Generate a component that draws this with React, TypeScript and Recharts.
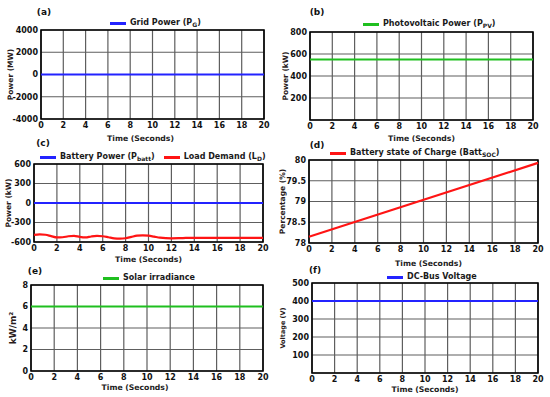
import type { ReactNode } from "react";
import { CartesianGrid, Legend, Line, LineChart, ReferenceArea, XAxis, YAxis } from "recharts";

const FONT = '"DejaVu Sans", Verdana, sans-serif';

// time axis (seconds)
const timeTicks = [0, 2, 4, 6, 8, 10, 12, 14, 16, 18, 20];
const spanTime = [0, 20];

// flat / linear traces, read at start and end
const gridPowerMW = [0, 0];
const pvPowerKW = [550, 550];
const batteryPowerKW = [0, 0];
const socPercent = [78.15, 79.93];
const irradianceKWm2 = [6, 6];
const dcBusVoltageV = [400, 400];

// load demand wiggle (kW)
const loadTime = [0, 0.5, 1, 1.5, 2, 2.5, 3, 3.5, 4, 4.5, 5, 5.5, 6, 6.5, 7, 7.5, 8, 8.5, 9, 9.5, 10, 10.5, 11, 11.5, 12, 13, 14, 16, 18, 20];
const loadDemandKW = [-490, -482, -488, -510, -530, -527, -512, -505, -522, -530, -515, -507, -512, -527, -543, -548, -542, -522, -503, -497, -503, -518, -533, -541, -543, -539, -536, -536, -535, -535];

// y ticks per panel
const gridTicks = [-4000, -2000, 0, 2000, 4000];
const pvTicks = [0, 200, 400, 600, 800];
const battTicks = [-600, -300, 0, 300, 600];
const socTicks = [78, 78.5, 79, 79.5, 80];
const irrTicks = [0, 2, 4, 6, 8];
const voltTicks = [0, 100, 200, 300, 400, 500];

const toPoints = (ts: number[], vs: number[]) => ts.map((t, i) => ({ t, v: vs[i] }));

interface Series {
  name: ReactNode;
  color: string;
  data: { t: number; v: number }[];
}

interface PanelProps {
  left: number;
  top: number;
  width: number;
  height: number;
  marginTop: number;
  marginRight: number;
  yWidth: number;
  xHeight: number;
  yDomain: [number, number];
  yTicks: number[];
  hideZero?: boolean;
  yTitle: ReactNode;
  yTitleSize?: number;
  yTitleX: number;
  yTitleDy?: number;
  xTitleOffset: number;
  xTitleDx?: number;
  legendTop: number;
  legendLeft: number;
  letter: string;
  letterX: number;
  letterY: number;
  series: Series[];
}

const tickStyle = { fontSize: 8, fontWeight: 700, fill: "#111", fontFamily: FONT };

function Panel(p: PanelProps) {
  return (
    <div style={{ position: "absolute", left: p.left, top: p.top, width: p.width, height: p.height }}>
      <LineChart
        width={p.width}
        height={p.height}
        margin={{ top: p.marginTop, right: p.marginRight, left: 0, bottom: 0 }}
        style={{ fontFamily: FONT }}
      >
        <CartesianGrid stroke="#5e5e5e" strokeWidth={1.2} />
        <XAxis
          dataKey="t"
          type="number"
          domain={[0, 20]}
          ticks={timeTicks}
          interval={0}
          height={p.xHeight}
          tickSize={0}
          tickMargin={3}
          axisLine={false}
          tick={tickStyle}
          label={{
            value: "Time (Seconds)",
            position: "insideBottom",
            offset: p.xTitleOffset,
            dx: p.xTitleDx ?? 0,
            style: { fontSize: 7.7, fontWeight: 700, fill: "#222", fontFamily: FONT },
          }}
        />
        <YAxis
          type="number"
          domain={p.yDomain}
          ticks={p.yTicks}
          interval={0}
          width={p.yWidth}
          tickSize={0}
          tickMargin={3}
          axisLine={false}
          tick={tickStyle}
          tickFormatter={(v) => (p.hideZero && v === 0 ? "" : String(v))}
          label={{
            value: p.yTitle as string,
            angle: -90,
            position: "insideLeft",
            offset: 0,
            dx: p.yTitleX,
            dy: p.yTitleDy ?? 0,
            style: { textAnchor: "middle", fontSize: p.yTitleSize ?? 7.5, fontWeight: 700, fill: "#2a1c1c", fontFamily: FONT },
          }}
        />
        <Legend
          layout="horizontal"
          verticalAlign="middle"
          align="center"
          wrapperStyle={{ top: p.legendTop, left: p.legendLeft, width: "auto" }}
          content={() => (
            <div style={{ display: "flex", gap: 9, whiteSpace: "nowrap", fontFamily: FONT, fontSize: 8, fontWeight: 700, color: "#1a1a1a", lineHeight: "12px" }}>
              {p.series.map((s, i) => (
                <span key={i} style={{ display: "flex", alignItems: "center" }}>
                  <span style={{ display: "inline-block", width: 16, height: 3, background: s.color, marginRight: 4 }} />
                  <span>{s.name}</span>
                </span>
              ))}
            </div>
          )}
        />
        {p.series.map((s, i) => (
          <Line
            key={i}
            data={s.data}
            dataKey="v"
            type="monotone"
            stroke={s.color}
            strokeWidth={2.2}
            dot={false}
            activeDot={false}
            isAnimationActive={false}
            legendType="none"
          />
        ))}
        <ReferenceArea
          x1={0}
          x2={20}
          y1={p.yDomain[0]}
          y2={p.yDomain[1]}
          fill="none"
          stroke="#000"
          strokeWidth={1.6}
          ifOverflow="visible"
        />
      </LineChart>
      <div
        style={{
          position: "absolute",
          left: p.letterX,
          top: p.letterY - 6,
          transform: "translateX(-50%)",
          fontFamily: FONT,
          fontSize: 9,
          fontWeight: 700,
          lineHeight: "12px",
          color: "#111",
        }}
      >
        {p.letter}
      </div>
    </div>
  );
}

const sub = (t: string) => <span style={{ fontSize: 6, position: "relative", top: 2 }}>{t}</span>;

const BLUE = "#2323ff";
const GREEN = "#1fbf1f";
const RED = "#ff1414";

export default function App() {
  return (
    <div style={{ position: "absolute", left: 0, top: 0, width: 550, height: 397, background: "#fff", overflow: "hidden" }}>
      <Panel
        left={0} top={0} width={275} height={145}
        marginTop={30} marginRight={11} yWidth={41} xHeight={26}
        yDomain={[-4000, 4000]} yTicks={gridTicks}
        yTitle="Power (MW)" yTitleX={10}
        xTitleOffset={4} xTitleDx={-12}
        legendTop={17} legendLeft={110}
        letter="(a)" letterX={44} letterY={12}
        series={[{ name: <>Grid Power (P{sub("G")})</>, color: BLUE, data: toPoints(spanTime, gridPowerMW) }]}
      />
      <Panel
        left={275} top={0} width={275} height={145}
        marginTop={32} marginRight={17} yWidth={35} xHeight={25}
        yDomain={[0, 800]} yTicks={pvTicks} hideZero
        yTitle="Power (kW)" yTitleX={10}
        xTitleOffset={4}
        legendTop={18} legendLeft={88}
        letter="(b)" letterX={42} letterY={12}
        series={[{ name: <>Photovoltaic Power (P{sub("PV")})</>, color: GREEN, data: toPoints(spanTime, pvPowerKW) }]}
      />
      <Panel
        left={0} top={130} width={275} height={135}
        marginTop={34} marginRight={12} yWidth={34} xHeight={23}
        yDomain={[-600, 600]} yTicks={battTicks}
        yTitle="Power (kW)" yTitleX={8}
        xTitleOffset={3}
        legendTop={21} legendLeft={40}
        letter="(c)" letterX={43} letterY={13}
        series={[
          { name: <>Battery Power (P{sub("batt")})</>, color: BLUE, data: toPoints(spanTime, batteryPowerKW) },
          { name: <>Load Demand (L{sub("D")})</>, color: RED, data: toPoints(loadTime, loadDemandKW) },
        ]}
      />
      <Panel
        left={275} top={130} width={275} height={140}
        marginTop={30} marginRight={12} yWidth={34} xHeight={27}
        yDomain={[78, 80]} yTicks={socTicks}
        yTitle="Percentage (%)" yTitleX={7}
        xTitleOffset={4} xTitleDx={5}
        legendTop={17} legendLeft={55}
        letter="(d)" letterX={42} letterY={15}
        series={[{ name: <>Battery state of Charge (Batt{sub("SOC")})</>, color: RED, data: toPoints(spanTime, socPercent) }]}
      />
      <Panel
        left={0} top={265} width={275} height={132}
        marginTop={20} marginRight={12} yWidth={31} xHeight={26}
        yDomain={[0, 8]} yTicks={irrTicks}
        yTitle="kW/m²" yTitleSize={9} yTitleX={13}
        xTitleOffset={7} xTitleDx={-12}
        legendTop={7} legendLeft={103}
        letter="(e)" letterX={35} letterY={6}
        series={[{ name: "Solar irradiance", color: GREEN, data: toPoints(spanTime, irradianceKWm2) }]}
      />
      <Panel
        left={275} top={265} width={275} height={132}
        marginTop={18} marginRight={12} yWidth={37} xHeight={24}
        yDomain={[0, 500]} yTicks={voltTicks} hideZero
        yTitle="Voltage (V)" yTitleSize={6.5} yTitleX={8}
        xTitleOffset={5}
        legendTop={6} legendLeft={112}
        letter="(f)" letterX={40} letterY={5}
        series={[{ name: "DC-Bus Voltage", color: BLUE, data: toPoints(spanTime, dcBusVoltageV) }]}
      />
    </div>
  );
}
